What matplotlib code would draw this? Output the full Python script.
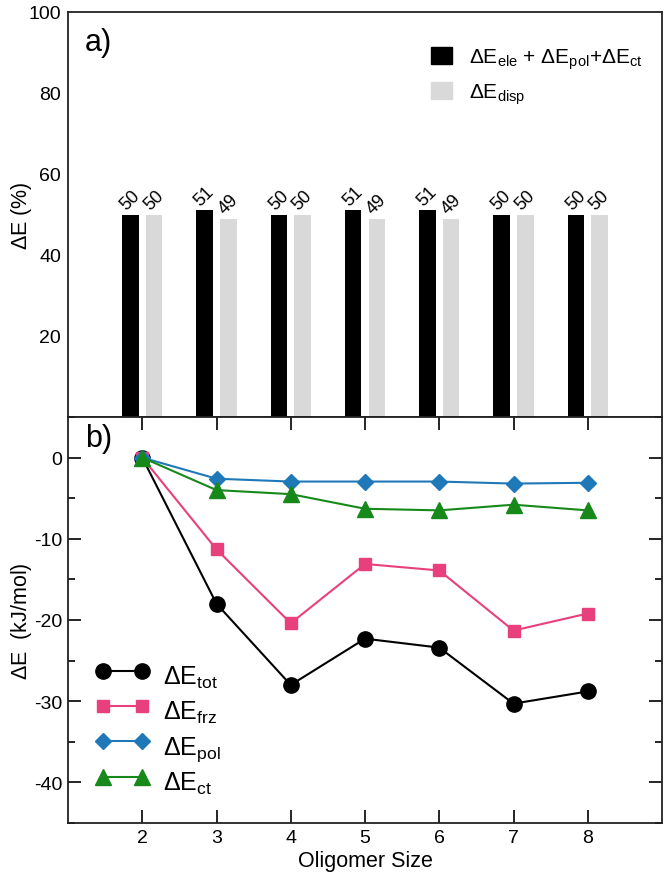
import matplotlib
matplotlib.use("Agg")
import matplotlib.pyplot as plt
from matplotlib.patches import Patch
from matplotlib.ticker import MultipleLocator

plt.rcParams['font.family'] = ['Liberation Sans', 'DejaVu Sans']
plt.rcParams['mathtext.fontset'] = 'custom'
plt.rcParams['mathtext.rm'] = 'Liberation Sans'
plt.rcParams['mathtext.it'] = 'Liberation Sans'
plt.rcParams['axes.unicode_minus'] = False

# ---- data ----
sizes = [2, 3, 4, 5, 6, 7, 8]
pct_elec = [50, 51, 50, 51, 51, 50, 50]
pct_disp = [50, 49, 50, 49, 49, 50, 50]

E_tot = [0, -18.0, -28.0, -22.3, -23.4, -30.3, -28.8]
E_frz = [0, -11.3, -20.4, -13.1, -13.9, -21.3, -19.2]
E_pol = [0, -2.6, -2.95, -2.95, -2.95, -3.2, -3.1]
E_ct = [0, -4.0, -4.5, -6.3, -6.5, -5.8, -6.5]

labels_bar = [r'$\Delta$E$_{\mathrm{ele}}$ + $\Delta$E$_{\mathrm{pol}}$+$\Delta$E$_{\mathrm{ct}}$',
              r'$\Delta$E$_{\mathrm{disp}}$']
labels_line = [r'$\Delta$E$_{\mathrm{tot}}$', r'$\Delta$E$_{\mathrm{frz}}$',
               r'$\Delta$E$_{\mathrm{pol}}$', r'$\Delta$E$_{\mathrm{ct}}$']

c_black = '#000000'
c_gray = '#d9d9d9'
c_pink = '#e8407c'
c_blue = '#1f78b8'
c_green = '#17891a'

W, H = 666, 879
fig = plt.figure(figsize=(W / 100, H / 100), dpi=100)
L, R = 68, 662
top_t, mid, bot_b = 13, 418, 824
axa = fig.add_axes([L / W, (H - mid) / H, (R - L) / W, (mid - top_t) / H])
axb = fig.add_axes([L / W, (H - bot_b) / H, (R - L) / W, (bot_b - mid) / H])

for ax in (axa, axb):
    for s in ax.spines.values():
        s.set_linewidth(1.3)
        s.set_color('#222222')

# ---- panel a ----
bw = 0.22
off = 0.16
xs_e = [x - off for x in sizes]
xs_d = [x + off for x in sizes]
b1 = axa.bar(xs_e, pct_elec, width=bw, color=c_black, label=labels_bar[0])
b2 = axa.bar(xs_d, pct_disp, width=bw, color=c_gray, label=labels_bar[1])
for bars, vals in ((b1, pct_elec), (b2, pct_disp)):
    for rect, v in zip(bars, vals):
        axa.annotate(str(v), (rect.get_x() + rect.get_width() / 2, rect.get_height()),
                     xytext=(0, 1), textcoords='offset points', ha='center', va='bottom',
                     rotation=45, fontsize=13)
axa.set_xlim(1, 9)
axa.set_ylim(0, 100)
axa.set_yticks([20, 40, 60, 80, 100])
axa.tick_params(axis='y', length=0, labelsize=14, pad=5)
axa.set_xticks([])
axa.set_ylabel(r'$\Delta$E (%)', fontsize=15.5)
axa.yaxis.set_label_coords(-0.058, 0.5)
axa.text(0.029, 0.963, 'a)', transform=axa.transAxes, fontsize=22, va='top', ha='left')
axa.legend(handles=[Patch(color=c_black), Patch(color=c_gray)], labels=labels_bar,
           loc='upper right', bbox_to_anchor=(0.968, 0.915), frameon=False, fontsize=15,
           handlelength=0.98, handleheight=0.87, handletextpad=0.85, labelspacing=0.5,
           borderpad=0, borderaxespad=0)

# ---- panel b ----
axb.plot(sizes, E_tot, color=c_black, marker='o', ms=11, lw=1.5, label=labels_line[0])
axb.plot(sizes, E_frz, color=c_pink, marker='s', ms=9, lw=1.5, label=labels_line[1])
axb.plot(sizes, E_pol, color=c_blue, marker='D', ms=8.5, lw=1.5, label=labels_line[2])
axb.plot(sizes, E_ct, color=c_green, marker='^', ms=11, lw=1.5, label=labels_line[3])
axb.set_xlim(1, 9)
axb.set_ylim(-45, 5)
axb.set_xticks(sizes)
axb.set_yticks([0, -10, -20, -30, -40])
axb.yaxis.set_minor_locator(MultipleLocator(5))
axb.tick_params(axis='both', which='major', direction='in', length=9.5, width=1.2,
                labelsize=14, top=True, right=True, pad=4)
axb.tick_params(axis='y', which='minor', direction='in', length=5, width=1.2, right=True)
axb.set_xlabel('Oligomer Size', fontsize=15.5, labelpad=3)
axb.set_ylabel(r'$\Delta$E  (kJ/mol)', fontsize=15.5)
axb.yaxis.set_label_coords(-0.058, 0.5)
axb.text(0.029, 0.985, 'b)', transform=axb.transAxes, fontsize=22, va='top', ha='left')
axb.legend(loc='upper left', bbox_to_anchor=(0.046, 0.406), frameon=False, fontsize=18,
           numpoints=2, handlelength=2.16, handletextpad=0.54, labelspacing=0.05,
           handleheight=1.72, borderpad=0, borderaxespad=0)

fig.savefig('out.png', dpi=100, facecolor='white')
